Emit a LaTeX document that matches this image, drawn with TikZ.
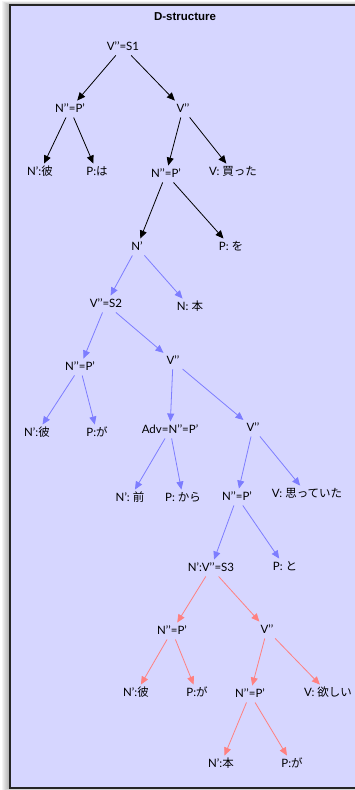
\documentclass[tikz,border=0pt]{standalone}
\usepackage{fontspec}
\usepackage{tikz}
\usetikzlibrary{arrows.meta}
\setmainfont{Lato}
\newfontfamily\titlefont{Liberation Sans}
\newfontfamily\jp{Noto Sans CJK JP}
\definecolor{panelblue}{RGB}{214,214,255}
\definecolor{treeblue}{RGB}{125,125,255}
\definecolor{treered}{RGB}{255,128,128}

\tikzset{
  cat/.style={inner sep=3pt, text height=8.5pt, text depth=2pt, font=\fontsize{11.5}{13}\selectfont},
  br/.style={-{Triangle[length=8pt,width=7pt]}, line width=0.8pt},
  brblack/.style={br, black},
  brblue/.style={br, treeblue},
  brred/.style={br, treered}
}

\begin{document}
\begin{tikzpicture}[x=1pt, y=-1pt]
    \useasboundingbox (0,0) rectangle (354,790);
    % soft shadow round the panel
    \foreach \i in {1,...,8}
        \fill[black, opacity=0.045] (10-\i, 5-0.5*\i) rectangle (370, 788+0.3*\i);
    \filldraw[fill=panelblue, draw=black!85, line width=1.2pt] (10,5) rectangle (370,788);
    \node[font=\titlefont\bfseries\fontsize{11.5}{13}\selectfont] (title) at (185,17) {D-structure};

    % S1 part
    \node[cat] (s1)    at (123,47)  {V’’=S1};
    \node[cat] (np1)   at (70,109)  {N’’=P’};
    \node[cat] (vb1)   at (183,109) {V’’};
    \node[cat] (kare1) at (40,172)  {N’:{\jp 彼}};
    \node[cat] (wa)    at (97,172)  {P:{\jp は}};
    \node[cat] (np2)   at (166,174) {N’’=P’};
    \node[cat] (katta) at (233,172) {V: {\jp 買った}};
    \node[cat] (nbar)  at (137,247) {N’};
    \node[cat] (wo)    at (231,247) {P: {\jp を}};

    % S2 part
    \node[cat] (s2)    at (106,304) {V’’=S2};
    \node[cat] (hon1)  at (190,307) {N: {\jp 本}};
    \node[cat] (np3)   at (80,367)  {N’’=P’};
    \node[cat] (vb2)   at (173,361) {V’’};
    \node[cat] (kare2) at (37,433)  {N’:{\jp 彼}};
    \node[cat] (ga2)   at (97,433)  {P:{\jp が}};
    \node[cat] (adv)   at (170,430) {Adv=N’’=P’};
    \node[cat] (vb3)   at (253,428) {V’’};
    \node[cat] (mae)   at (130,498) {N’: {\jp 前}};
    \node[cat] (kara)  at (183,498) {P: {\jp から}};
    \node[cat] (np4)   at (237,497) {N’’=P’};
    \node[cat] (omot)  at (307,494) {V: {\jp 思っていた}};
    \node[cat] (s3)    at (211,568) {N’:V’’=S3};
    \node[cat] (to)    at (285,567) {P: {\jp と}};

    % S3 part
    \node[cat] (np5)   at (172,631) {N’’=P’};
    \node[cat] (vb4)   at (267,630) {V’’};
    \node[cat] (kare3) at (136,693) {N’:{\jp 彼}};
    \node[cat] (ga3)   at (197,693) {P:{\jp が}};
    \node[cat] (np6)   at (250,694) {N’’=P’};
    \node[cat] (hoshi) at (328,693) {V: {\jp 欲しい}};
    \node[cat] (hon2)  at (221,764) {N’:{\jp 本}};
    \node[cat] (ga4)   at (292,764) {P:{\jp が}};

    % branches
    \foreach \a/\b in {s1/np1, s1/vb1, np1/kare1, np1/wa, vb1/np2, vb1/katta, np2/nbar, np2/wo}
        \draw[brblack] (\a) -- (\b);
    \foreach \a/\b in {nbar/s2, nbar/hon1, s2/np3, s2/vb2, np3/kare2, np3/ga2, vb2/adv, vb2/vb3,
                       adv/mae, adv/kara, vb3/np4, vb3/omot, np4/s3, np4/to}
        \draw[brblue] (\a) -- (\b);
    \foreach \a/\b in {s3/np5, s3/vb4, np5/kare3, np5/ga3, vb4/np6, vb4/hoshi, np6/hon2, np6/ga4}
        \draw[brred] (\a) -- (\b);
\end{tikzpicture}
\end{document}
